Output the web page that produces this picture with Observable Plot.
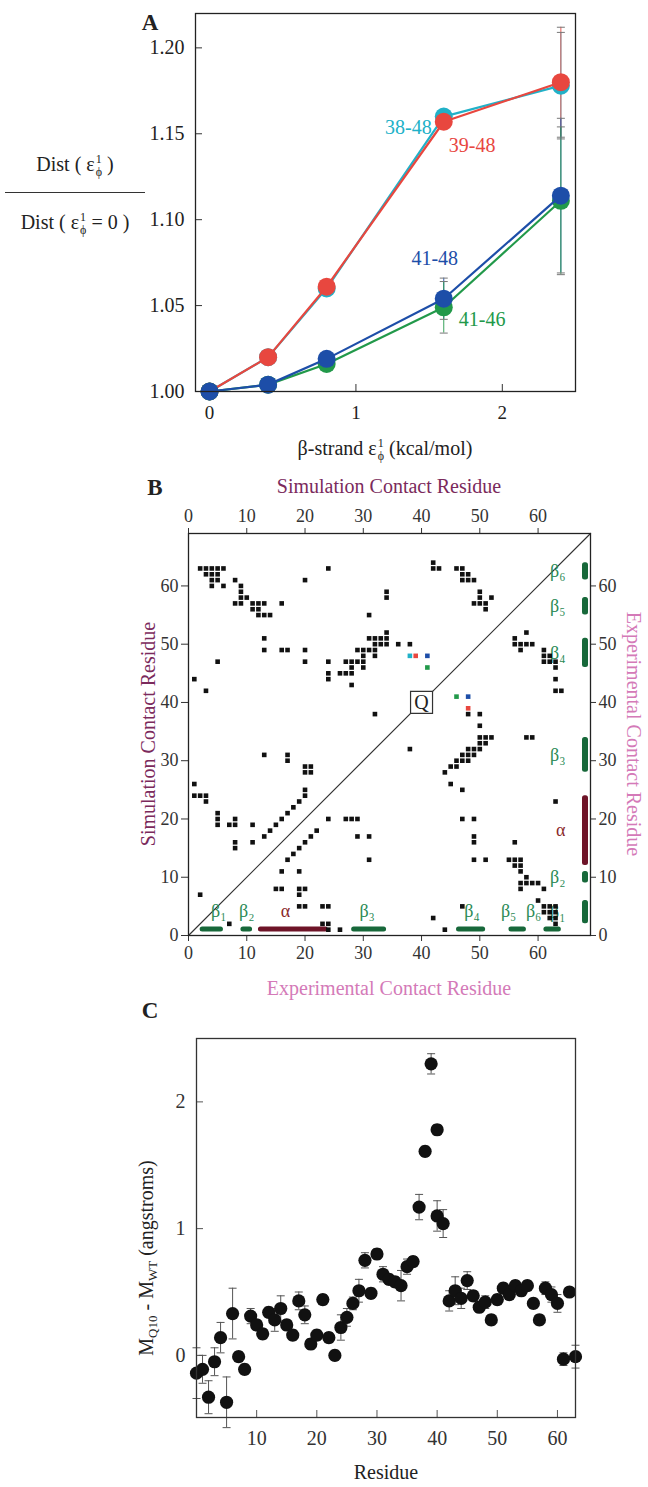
<!DOCTYPE html>
<html><head><meta charset="utf-8">
<script src="https://cdn.jsdelivr.net/npm/d3@7"></script>
<script src="https://cdn.jsdelivr.net/npm/@observablehq/plot@0.6"></script>
<style>
body{margin:0;background:#fff;}
#root{position:relative;width:648px;height:1487px;font-family:"Liberation Serif","Times New Roman",serif;color:#222;overflow:hidden;}
#root svg{position:absolute;left:0;}
.lbl{position:absolute;white-space:nowrap;font-family:"Liberation Serif","Times New Roman",serif;font-size:20px;line-height:1;}
.ctr{transform:translate(-50%,-50%);}
.rotL{transform:translate(-50%,-50%) rotate(-90deg);}
.rotR{transform:translate(-50%,-50%) rotate(90deg);}
.stk{display:inline-block;vertical-align:-5px;font-size:12px;line-height:13px;text-align:left;margin-left:1px;}
.stk span{display:block;}
.letter{font-weight:bold;font-size:23px;}
sub{font-size:13px;vertical-align:-4px;}
</style></head><body><div id="root"></div>
<script>
// ---------- Panel A data ----------
const energies = [0, 0.4, 0.8, 1.6, 2.4];
const pairNames = ["38-48", "39-48", "41-48", "41-46"];
const dist3848 = [1.000, 1.020, 1.060, 1.160, 1.178];
const dist3948 = [1.000, 1.020, 1.061, 1.157, 1.180];
const dist4148 = [1.000, 1.004, 1.019, 1.054, 1.114];
const dist4146 = [1.000, 1.004, 1.016, 1.049, 1.111];
const err3848 = [0, 0, 0, 0, 0.031];
const err3948 = [0, 0, 0, 0, 0.032];
const err4148 = [0, 0, 0, 0.012, 0.045];
const err4146 = [0, 0, 0, 0.015, 0.043];
const xTicksA = [0, 1, 2];
const yTicksA = [1.00, 1.05, 1.10, 1.15, 1.20];

// ---------- Panel B data ----------
const mapRange = [0, 69];
const mapTicks = [0, 10, 20, 30, 40, 50, 60];
const simContacts = [
 [2,63],[3,63],[4,63],[5,63],[6,63],[3,62],[4,62],[5,62],[4,61],[5,61],[4,60],[6,60],
 [8,61],[9,60],[9,59],[9,58],[10,58],[8,57],[9,57],[11,57],[11,56],[12,56],[12,57],[13,57],[12,55],[13,55],[14,55],[16,57],
 [13,51],[13,49],[16,49],[17,49],[20,49],[20,47],[20,61],[5,47],[1,44],[3,42],[24,63],
 [24,47],[24,45],[24,44],[26,45],[27,45],[27,47],[28,47],[28,46],[28,45],[28,43],[29,47],[30,47],[30,46],
 [29,49],[30,49],[30,48],[31,49],[32,49],[32,48],[31,55],[31,51],[32,51],[33,51],[32,50],[33,50],[34,50],[34,51],[34,52],[34,59],[34,58],[36,50],[38,50],[32,38],
 [42,64],[42,63],[43,63],[46,63],[47,63],[47,62],[48,62],[47,61],[48,61],[49,61],[50,59],[50,58],[49,57],[50,57],[51,57],[52,58],[51,56],
 [1,26],[1,24],[2,24],[3,24],[3,23],[5,21],[5,20],[5,19],[7,19],[8,19],[8,20],[8,16],[8,15],[11,19],[11,16],
 [13,17],[14,18],[15,19],[16,20],[17,21],[18,22],[19,23],[20,24],[20,25],[2,7],
 [13,31],[17,31],[17,30],[20,29],[21,29],[20,28],[21,28]
];
const expContacts = [
 [7,2],[15,8],[16,8],[16,11],[17,13],[18,14],[19,15],[20,16],[21,17],[22,18],[19,11],[19,8],[20,8],[19,7],[19,5],[20,5],
 [23,5],[24,5],[23,2],[24,2],[24,1],[26,1],[29,17],[31,17],[31,13],[24,20],[27,20],[28,20],[29,20],
 [38,32],[44,28],[45,29],[46,30],[46,29],[47,30],[47,31],[48,31],[48,30],[49,31],[48,32],[49,32],[50,32],[50,33],[51,33],
 [50,34],[51,34],[52,34],[50,36],[50,38],[48,38],[58,34],[59,34],[47,25],[45,26],[49,20],[49,17],[49,16],[49,13],[51,13],
 [47,20],[56,16],[63,23],[42,3],[44,1],[47,5],
 [55,13],[56,13],[57,13],[56,12],[57,12],[57,11],[58,10],[57,9],[58,9],[59,9],[60,9],[57,8],[61,8],[60,6],
 [61,5],[62,5],[63,5],[61,4],[62,4],[63,4],[62,3],[63,3],[63,2],
 [56,51],[58,52],[56,50],[57,50],[58,50],[59,50],[57,49],[61,49],[61,48],[62,48],[61,47],[62,47],[63,47],[63,46],[63,44],[63,42],[64,42]
];
const highlightContacts = [[38,48],[39,48],[41,48],[41,46],[46,41],[48,41],[48,39]];
const highlightPair = ["38-48","39-48","41-48","41-46","41-46","41-48","39-48"];
const ssNames = ["β₁","β₂","α","β₃","β₄","β₅","β₆"];
const ssStart = [2, 9, 12, 28, 46, 55, 61];
const ssEnd = [6, 11, 24, 34, 51, 58, 64];
const ssType = ["strand","strand","helix","strand","strand","strand","strand"];
const qResidue = [40];

// ---------- Panel C data ----------
const residues = [0,1,2,3,4,5,6,7,8,9,10,11,12,13,14,15,16,17,18,19,20,21,22,23,24,25,26,27,28,29,30,31,32,33,34,35,36,37,38,39,40,40,41,42,43,44,45,46,47,48,49,50,51,52,53,54,55,56,57,58,59,60,61,62,63];
const deltaM = [-0.14,-0.11,-0.33,-0.05,0.14,-0.37,0.33,-0.01,-0.11,0.31,0.24,0.17,0.34,0.28,0.37,0.24,0.16,0.43,0.32,0.09,0.16,0.44,0.14,0.00,0.22,0.30,0.41,0.51,0.75,0.49,0.80,0.64,0.60,0.58,0.55,0.70,0.74,1.17,1.61,2.30,1.78,1.10,1.04,0.43,0.51,0.45,0.59,0.47,0.38,0.42,0.28,0.44,0.53,0.48,0.55,0.51,0.55,0.41,0.28,0.53,0.48,0.41,-0.03,0.50,-0.01];
const deltaErr = [0.20,0.11,0.13,0.11,0.12,0.20,0.20,0.04,0.04,0.06,0.04,0.04,0.04,0.09,0.10,0.04,0.04,0.07,0.07,0.04,0.04,0.04,0.04,0.04,0.10,0.07,0.05,0.09,0.06,0.04,0.04,0.06,0.04,0.04,0.12,0.06,0.04,0.10,0.04,0.08,0.04,0.12,0.11,0.08,0.11,0.08,0.07,0.04,0.04,0.05,0.04,0.04,0.04,0.04,0.04,0.04,0.04,0.04,0.04,0.05,0.06,0.07,0.05,0.03,0.09];
const xTicksC = [10, 20, 30, 40, 50, 60];
const yTicksC = [0, 1, 2];

// ---------- styles ----------
const pairColors = ["#21b1c8", "#e8473f", "#1d4ea8", "#22994a"];
const serif = "'Liberation Serif', 'Times New Roman', serif";
const capSymbol = {draw(ctx, size) { const w = Math.sqrt(size / Math.PI); ctx.moveTo(-w, 0); ctx.lineTo(w, 0); }};
const intFmt = d3.format("d");
const root = document.getElementById("root");
function put(node, top) { node.style.top = top + "px"; root.appendChild(node); }
function label(html, x, y, cls, style) {
  const d = document.createElement("div");
  d.className = "lbl " + cls;
  d.innerHTML = html;
  d.style.left = x + "px"; d.style.top = y + "px";
  if (style) d.setAttribute("style", d.getAttribute("style") + ";" + style);
  root.appendChild(d);
}

// ---------- Panel A ----------
const seriesA = [dist3848, dist3948, dist4148, dist4146];
const errsA = [err3848, err3948, err4148, err4146];
const rowsA = pairNames.flatMap((p, s) => energies.map((e, k) => ({pair: p, e, v: seriesA[s][k], err: errsA[s][k]})));
const drawOrder = ["38-48", "39-48", "41-46", "41-48"];
const errRowsA = rowsA.filter(d => d.err > 0);
const labelAt = (p) => rowsA.filter(d => d.pair === p && d.e === energies[3]);
const plotA = Plot.plot({
  width: 648, height: 470,
  marginLeft: 195, marginRight: 73, marginTop: 13, marginBottom: 79,
  x: {domain: [-0.096, 2.5]},
  y: {domain: [1.0, 1.22]},
  color: {domain: pairNames, range: pairColors},
  style: {fontFamily: serif, fontSize: "19px", color: "#222", background: "transparent"},
  marks: [
    Plot.axisX({ticks: xTicksA, tickSize: 0, tickPadding: 14, tickFormat: intFmt, label: null, fontSize: 19}),
    Plot.axisY({ticks: yTicksA, tickSize: 0, tickPadding: 11, tickFormat: d3.format(".2f"), label: null, fontSize: 20}),
    Plot.tickX(xTicksA, {x: d => d, insetTop: 371, stroke: "#333"}),
    Plot.tickY(yTicksA, {y: d => d, insetRight: 373, stroke: "#333"}),
    Plot.ruleX(errRowsA, {x: "e", y1: d => d.v - d.err, y2: d => d.v + d.err, stroke: "pair", strokeWidth: 0.9}),
    Plot.dot(errRowsA.flatMap(d => [{...d, c: d.v - d.err}, {...d, c: d.v + d.err}]), {x: "e", y: "c", symbol: capSymbol, r: 4, fill: "none", stroke: "#777", strokeWidth: 1}),
    ...drawOrder.flatMap(p => [
      Plot.line(rowsA.filter(d => d.pair === p), {x: "e", y: "v", stroke: "pair", strokeWidth: 2.2}),
      Plot.dot(rowsA.filter(d => d.pair === p), {x: "e", y: "v", fill: "pair", r: 9})
    ]),
    Plot.text(labelAt("38-48"), {x: "e", y: "v", text: "pair", fill: "pair", textAnchor: "end", dx: -12, dy: 11, fontSize: 20}),
    Plot.text(labelAt("39-48"), {x: "e", y: "v", text: "pair", fill: "pair", textAnchor: "start", dx: 5, dy: 24, fontSize: 20}),
    Plot.text(labelAt("41-48"), {x: "e", y: "v", text: "pair", fill: "pair", textAnchor: "middle", dx: -9, dy: -40, fontSize: 20}),
    Plot.text(labelAt("41-46"), {x: "e", y: "v", text: "pair", fill: "pair", textAnchor: "start", dx: 15, dy: 12, fontSize: 20}),
    Plot.frame({stroke: "#222", strokeWidth: 1.3})
  ]
});
put(plotA, 0);
label("A", 150, 22, "ctr letter");
const eps = 'ε<span class="stk"><span>1</span><span>ϕ</span></span>';
label("Dist ( " + eps + " )", 75, 166, "ctr");
label("", 5, 192, "", "width:140px;height:0;border-top:1.6px solid #333");
label("Dist ( " + eps + " = 0 )", 75, 224, "ctr");
label("β-strand " + eps + " (kcal/mol)", 385, 450, "ctr");

// ---------- Panel B ----------
const simData = simContacts.map(([i, j]) => ({i, j}));
const expData = expContacts.map(([i, j]) => ({i, j}));
const hiData = highlightContacts.map(([i, j], k) => ({i, j, pair: highlightPair[k]}));
const ssData = ssNames.map((n, k) => ({name: n, start: ssStart[k], end: ssEnd[k], type: ssType[k], mid: (ssStart[k] + ssEnd[k]) / 2}));
const ssColor = d => d.type === "helix" ? "#6e1428" : "#17683a";
const ssText = d => d.type === "helix" ? "#8a2a2a" : "#2a8a55";
const bottomLabel = (k, dx) => Plot.text([ssData[k]], {x: "mid", frameAnchor: "bottom", dy: -19, dx, text: "name", fill: ssText, fontSize: 18});
const plotB = Plot.plot({
  width: 648, height: 540,
  marginLeft: 188, marginRight: 58, marginTop: 73, marginBottom: 65,
  x: {domain: mapRange}, y: {domain: mapRange},
  color: {domain: pairNames, range: pairColors},
  style: {fontFamily: serif, fontSize: "18px", color: "#333", background: "transparent"},
  marks: [
    Plot.axisX({anchor: "top", ticks: mapTicks, tickSize: 6, tickPadding: 6, label: null, fontSize: 18}),
    Plot.axisX({anchor: "bottom", ticks: mapTicks, tickSize: 6, tickPadding: 5, label: null, fontSize: 18}),
    Plot.axisY({anchor: "left", ticks: mapTicks, tickSize: 7, tickPadding: 3, label: null, fontSize: 18}),
    Plot.axisY({anchor: "right", ticks: mapTicks, tickSize: 5, tickPadding: 3, label: null, fontSize: 18}),
    Plot.line(mapRange, {x: d => d, y: d => d, stroke: "#333", strokeWidth: 1.2}),
    Plot.rect(ssData, {x1: "start", x2: "end", insetTop: 393.5, insetBottom: 3.5, rx: 2.5, fill: ssColor}),
    Plot.rect(ssData, {y1: "start", y2: "end", insetLeft: 394, insetRight: 2, rx: 2.5, fill: ssColor}),
    bottomLabel(0, 7), bottomLabel(1, 0), bottomLabel(2, -8), bottomLabel(3, -2),
    bottomLabel(4, 1), bottomLabel(5, -9), bottomLabel(6, -19),
    Plot.text(ssData, {y: "mid", frameAnchor: "right", dx: -25, text: "name", fill: ssText, fontSize: 18}),
    Plot.dot(simData, {x: "i", y: "j", symbol: "square", r: 2.6, fill: "#111"}),
    Plot.dot(expData, {x: "i", y: "j", symbol: "square", r: 2.6, fill: "#111"}),
    Plot.dot(hiData, {x: "i", y: "j", symbol: "square", r: 2.6, fill: "pair"}),
    Plot.dot(qResidue, {x: d => d, y: d => d, symbol: "square", r: 12.4, fill: "white", stroke: "#333", strokeWidth: 1.2}),
    Plot.text(qResidue, {x: d => d, y: d => d, text: () => "Q", fontSize: 20, fill: "#222"}),
    Plot.frame({stroke: "#222", strokeWidth: 1.3})
  ]
});
put(plotB, 460);
label("B", 155, 487, "ctr letter");
label("Simulation Contact Residue", 389, 486, "ctr", "color:#7b2a5c");
label("Experimental Contact Residue", 389, 988, "ctr", "color:#d47ab8");
label("Simulation Contact Residue", 148, 734, "rotL", "color:#7b2a5c");
label("Experimental Contact Residue", 634, 734, "rotR", "color:#d47ab8");

// ---------- Panel C ----------
const rowsC = residues.map((r, k) => ({r, m: deltaM[k], e: deltaErr[k]}));
const plotC = Plot.plot({
  width: 648, height: 487,
  marginLeft: 196, marginRight: 73, marginTop: 38, marginBottom: 70,
  x: {domain: [0, 63]}, y: {domain: [-0.49, 2.5]},
  style: {fontFamily: serif, fontSize: "20px", color: "#333", background: "transparent"},
  marks: [
    Plot.axisX({ticks: xTicksC, tickSize: 0, tickPadding: 13, tickFormat: intFmt, label: null, fontSize: 20}),
    Plot.axisY({ticks: yTicksC, tickSize: 0, tickPadding: 11, tickFormat: intFmt, label: null, fontSize: 20}),
    Plot.tickX(xTicksC, {x: d => d, insetTop: 372, stroke: "#555"}),
    Plot.tickY(yTicksC, {y: d => d, insetRight: 372, stroke: "#555"}),
    Plot.ruleX(rowsC, {x: "r", y1: d => d.m - d.e, y2: d => d.m + d.e, stroke: "#555", strokeWidth: 1}),
    Plot.dot(rowsC.flatMap(d => [{r: d.r, c: d.m - d.e}, {r: d.r, c: d.m + d.e}]), {x: "r", y: "c", symbol: capSymbol, r: 4, fill: "none", stroke: "#555", strokeWidth: 1}),
    Plot.dot(rowsC, {x: "r", y: "m", r: 6.6, fill: "#111"}),
    Plot.frame({stroke: "#333", strokeWidth: 1.3})
  ]
});
put(plotC, 1000);
label("C", 150, 1010, "ctr letter");
label("M<sub>Q10</sub> - M<sub>WT</sub> (angstroms)", 147, 1258, "rotL");
label("Residue", 386, 1472, "ctr");
</script></body></html>
